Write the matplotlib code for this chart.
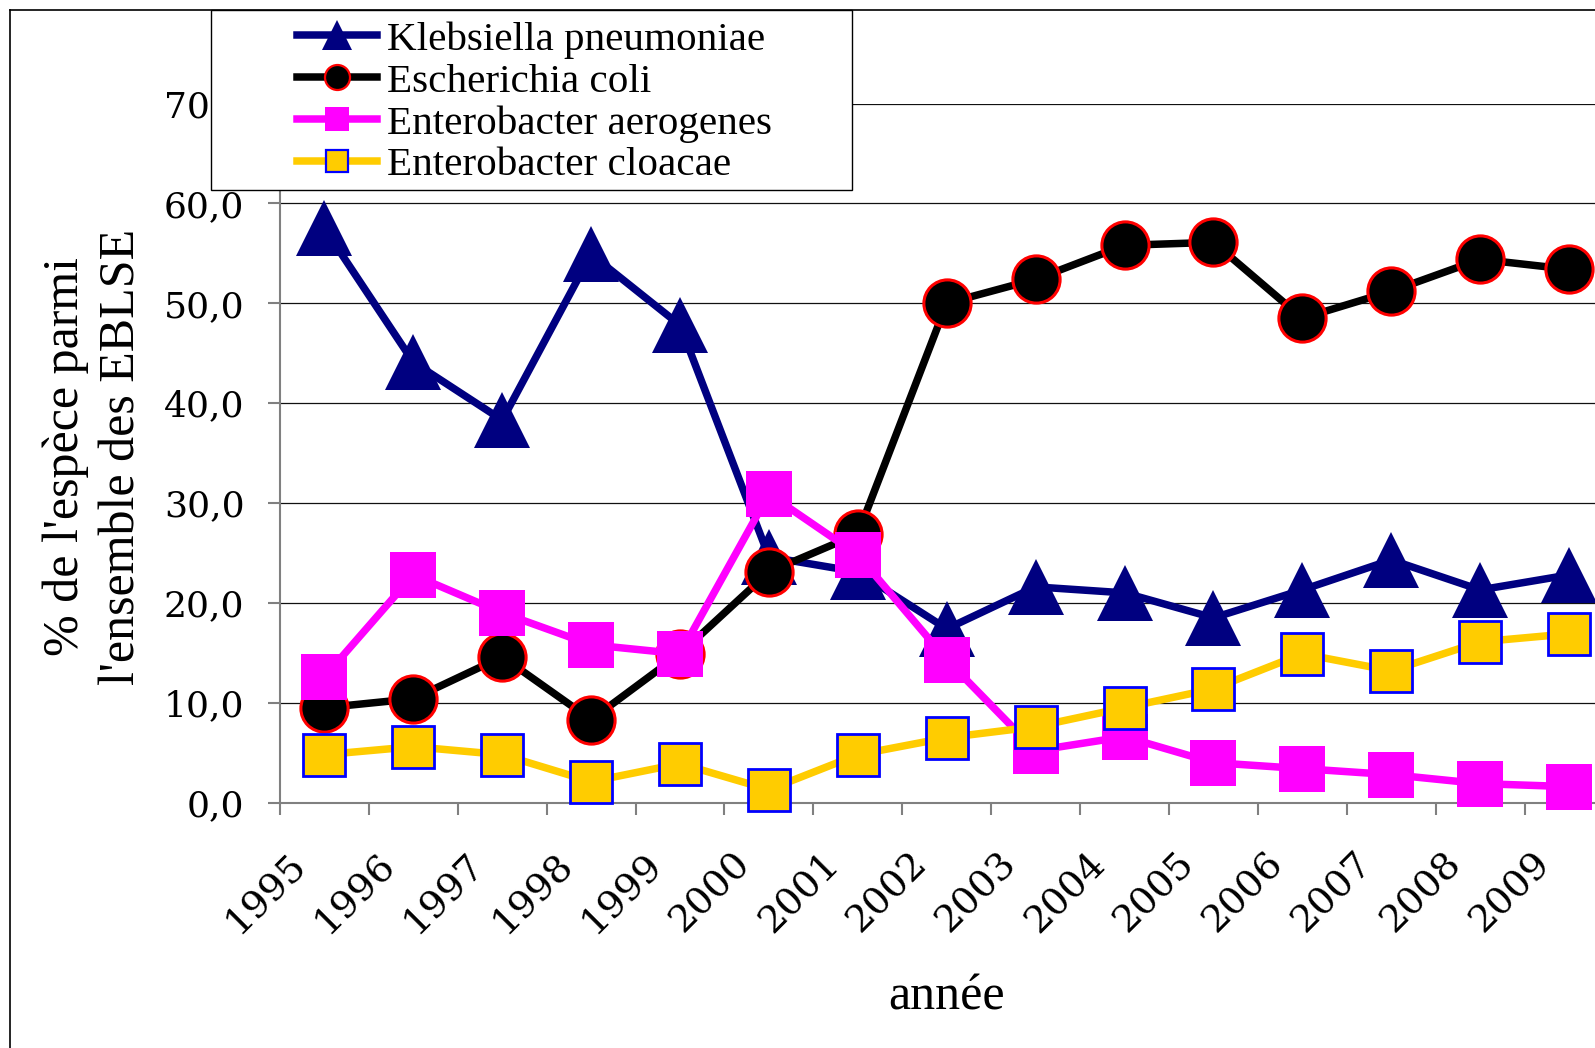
import numpy as np
import matplotlib
matplotlib.use("Agg")
import matplotlib.pyplot as plt
from matplotlib.lines import Line2D
from matplotlib.patches import Rectangle
from matplotlib.transforms import ScaledTranslation
from matplotlib.font_manager import FontProperties

W, H, DPI = 1595, 1048, 100

# ---------------- data ----------------
years = [str(y) for y in range(1995, 2010)]
klebsiella = [57.5, 44.1, 38.3, 54.9, 47.8, 24.6, 23.1, 17.4, 21.6, 21.0, 18.5, 21.3, 24.3, 21.3, 22.8]
e_coli = [9.5, 10.4, 14.6, 8.3, 14.9, 23.1, 26.9, 50.0, 52.4, 55.8, 56.1, 48.5, 51.2, 54.4, 53.4]
e_aerogenes = [12.6, 22.8, 19.0, 15.8, 14.9, 30.9, 24.8, 14.3, 5.2, 6.6, 4.0, 3.4, 2.8, 1.9, 1.6]
e_cloacae = [4.8, 5.6, 4.8, 2.1, 3.9, 1.3, 4.8, 6.5, 7.6, 9.5, 11.4, 14.9, 13.2, 16.1, 16.9]
series_names = ["Klebsiella pneumoniae", "Escherichia coli",
                "Enterobacter aerogenes", "Enterobacter cloacae"]
y_ticks = [0, 10, 20, 30, 40, 50, 60, 70]
y_label = "% de l'espèce parmi\nl'ensemble des EBLSE"
x_label = "année"

# ---------------- styles ----------------
LW = 5.4
styles = [
    dict(color="#000080", marker="^", ms=41, mfc="#000080", mec="#000080", mew=0),
    dict(color="#000000", marker="o", ms=34, mfc="#000000", mec="#FF0000", mew=2.2),
    dict(color="#FF00FF", marker="s", ms=33, mfc="#FF00FF", mec="#FF00FF", mew=0),
    dict(color="#FFCC00", marker="s", ms=30.5, mfc="#FFCC00", mec="#0000FF", mew=2.0),
]
legend_ms = [22, 18, 17, 16]
series = [klebsiella, e_coli, e_aerogenes, e_cloacae]

fig = plt.figure(figsize=(W / DPI, H / DPI), dpi=DPI)
fig.patch.set_facecolor("white")

ax_left, ax_right = 280.0, 1613.5
ax_bottom, ax_top = 802.6, 103.5
ax = fig.add_axes([ax_left / W, 1 - ax_bottom / H,
                   (ax_right - ax_left) / W, (ax_bottom - ax_top) / H])

x = np.arange(len(years))
for i, (vals, st) in enumerate(zip(series, styles)):
    ax.plot(x, vals, lw=LW, clip_on=False, zorder=3 + i, **st)

ax.set_xlim(-0.5, len(years) - 0.5)
ax.set_ylim(0, 70)

# y axis
ax.set_yticks(y_ticks)
ax.set_yticklabels([f"{v:.1f}".replace(".", ",") for v in y_ticks],
                   fontfamily="DejaVu Serif", fontsize=26)
ax.tick_params(axis="y", length=8.6, width=1.5, color="#808080", pad=17)
ax.yaxis.grid(True, color="#111111", lw=0.9)
ax.set_axisbelow(True)

# x axis: ticks at category boundaries, labels at centres
ax.set_xticks(np.arange(-0.5, len(years), 1.0))
ax.set_xticklabels([])
ax.set_xticks(x, minor=True)
ax.set_xticklabels(years, minor=True, rotation=45, ha="right",
                   fontfamily="DejaVu Serif", fontsize=27.5)
ax.tick_params(axis="x", which="major", length=8.6, width=1.5,
               color="#808080", direction="out")
ax.tick_params(axis="x", which="minor", length=0, pad=31)
offset = ScaledTranslation(-12 / DPI, 0, fig.dpi_scale_trans)
for lab in ax.get_xticklabels(minor=True):
    lab.set_transform(lab.get_transform() + offset)

for side in ("top", "right"):
    ax.spines[side].set_visible(False)
for side in ("left", "bottom"):
    ax.spines[side].set_color("#808080")
    ax.spines[side].set_linewidth(1.5)

# labels
fig.text(94 / W, 1 - 457 / H, y_label, rotation=90, ha="center", va="center",
         multialignment="center", family="Liberation Serif", size=36,
         linespacing=1.27)
fig.text((ax_left + ax_right) / 2 / W, 1 - 1010 / H, x_label, ha="center",
         va="baseline", family="Liberation Serif", size=36)

# chart border (left & top visible)
fig.add_artist(Line2D([10 / W, 10 / W], [0, 1 - 10 / H],
                      transform=fig.transFigure, color="black", lw=1.2))
fig.add_artist(Line2D([10 / W, 1], [1 - 10 / H, 1 - 10 / H],
                      transform=fig.transFigure, color="black", lw=1.2))

# legend box
fig.add_artist(Rectangle((210.6 / W, 1 - 190 / H), (852.4 - 210.6) / W, 180 / H,
                         transform=fig.transFigure, facecolor="white",
                         edgecolor="black", lw=1.0, zorder=4))
handles = []
for st, lms in zip(styles, legend_ms):
    s = dict(st)
    s["ms"] = lms
    s["mew"] = min(st["mew"], 1.6)
    handles.append(Line2D([], [], lw=LW, **s))
fig.legend(handles, series_names, loc="upper left",
           bbox_to_anchor=(297 / W, 1 - 21 / H), bbox_transform=fig.transFigure,
           frameon=False, prop=FontProperties(family="Liberation Serif", size=29.6),
           handlelength=1.94, handletextpad=0.24, labelspacing=0.1,
           borderpad=0, borderaxespad=0).set_zorder(5)

fig.savefig("out.png", dpi=DPI)
